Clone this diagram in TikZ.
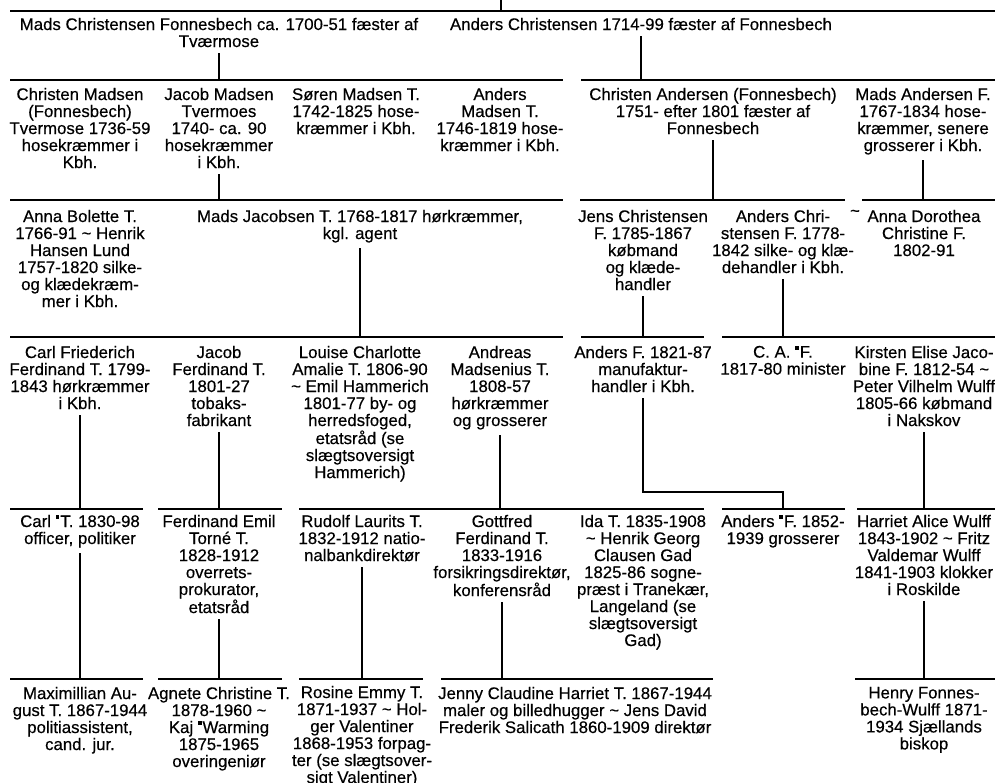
\documentclass[tikz,border=0pt]{standalone}
\usepackage{fontspec}
\setmainfont{Liberation Sans}[FakeBold=0.4]
\newcommand\tabfont{\fontsize{16.8}{17}\selectfont}
\newcommand\til{\textasciitilde}
\newcommand\sq{\raisebox{.48em}{\rule{.22em}{.22em}}\kern.06em}
\begin{document}
\begin{tikzpicture}[x=1pt,y=-1pt,line width=1.7pt,
                    person/.style={align=center,anchor=north,inner sep=0pt,font=\tabfont},
                    stem/.style={shorten <=5pt}]
\useasboundingbox (0,0) rectangle (995,782);
\foreach \n/\y/\a/\b in {g0/11/10/995,
                         g1a/80/10/563, g1b/80/581/995,
                         g2a/200/10/563, g2b/200/580/845, g2c/200/862/995,
                         g3a/337/10/563, g3b/337/581/704, g3c/337/722/995,
                         g4a/509/10/143, g4b/509/158/282, g4c/509/299/704, g4d/509/722/845, g4e/509/857/995,
                         g5a/679/10/143, g5b/679/158/282, g5c/679/299/423, g5d/679/441/713, g5e/679/855/995}
  {\coordinate (\n-l) at (\a,\y); \coordinate (\n-r) at (\b,\y); \draw (\n-l) -- (\n-r);}

\node[person] (mc) at (219,17) {Mads Christensen Fonnesbech ca. 1700-51 fæster af\\Tværmose};
\node[person] (ac) at (641,17) {Anders Christensen 1714-99 fæster af Fonnesbech};

\node[person] (cm) at (80,87) {Christen Madsen\\(Fonnesbech)\\Tvermose 1736-59\\hosekræmmer i\\Kbh.};
\node[person] (jm) at (219,87) {Jacob Madsen\\Tvermoes\\1740- ca. 90\\hosekræmmer\\i Kbh.};
\node[person] (sm) at (356,87) {Søren Madsen T.\\1742-1825 hose-\\kræmmer i Kbh.};
\node[person] (am) at (500,87) {Anders\\Madsen T.\\1746-1819 hose-\\kræmmer i Kbh.};
\node[person] (ca) at (713,87) {Christen Andersen (Fonnesbech)\\1751- efter 1801 fæster af\\Fonnesbech};
\node[person] (ma) at (923,87) {Mads Andersen F.\\1767-1834 hose-\\kræmmer, senere\\grosserer i Kbh.};

\node[person] (ab) at (80,209) {Anna Bolette T.\\1766-91 \til{} Henrik\\Hansen Lund\\1757-1820 silke-\\og klædekræm-\\mer i Kbh.};
\node[person] (mj) at (360,209) {Mads Jacobsen T. 1768-1817 hørkræmmer,\\kgl. agent};
\node[person] (jc) at (643,209) {Jens Christensen\\F. 1785-1867\\købmand\\og klæde-\\handler};
\node[person] (ach) at (783,209) {Anders Chri-\\stensen F. 1778-\\1842 silke- og klæ-\\dehandler i Kbh.};
\node[person] (mar) at (855,209) {\til};
\node[person] (ad) at (924,209) {Anna Dorothea\\Christine F.\\1802-91};

\node[person] (cf) at (80,345) {Carl Friederich\\Ferdinand T. 1799-\\1843 hørkræmmer\\i Kbh.};
\node[person] (jf) at (219,345) {Jacob\\Ferdinand T.\\1801-27\\tobaks-\\fabrikant};
\node[person] (lc) at (360,345) {Louise Charlotte\\Amalie T. 1806-90\\\til{} Emil Hammerich\\1801-77 by- og\\herredsfoged,\\etatsråd (se\\slægtsoversigt\\Hammerich)};
\node[person] (an) at (500,345) {Andreas\\Madsenius T.\\1808-57\\hørkræmmer\\og grosserer};
\node[person] (af) at (643,345) {Anders F. 1821-87\\manufaktur-\\handler i Kbh.};
\node[person] (caf) at (783,345) {C. A. \sq F.\\1817-80 minister};
\node[person] (ke) at (924,345) {Kirsten Elise Jaco-\\bine F. 1812-54 \til\\Peter Vilhelm Wulff\\1805-66 købmand\\i Nakskov};

\node[person] (ct) at (80,514) {Carl \sq T. 1830-98\\officer, politiker};
\node[person] (fe) at (219,514) {Ferdinand Emil\\Torné T.\\1828-1912\\overrets-\\prokurator,\\etatsråd};
\node[person] (rl) at (362,514) {Rudolf Laurits T.\\1832-1912 natio-\\nalbankdirektør};
\node[person] (gf) at (502,514) {Gottfred\\Ferdinand T.\\1833-1916\\forsikringsdirektør,\\konferensråd};
\node[person] (it) at (643,514) {Ida T. 1835-1908\\\til{} Henrik Georg\\Clausen Gad\\1825-86 sogne-\\præst i Tranekær,\\Langeland (se\\slægtsoversigt\\Gad)};
\node[person] (af2) at (783,514) {Anders \sq F. 1852-\\1939 grosserer};
\node[person] (ha) at (924,514) {Harriet Alice Wulff\\1843-1902 \til{} Fritz\\Valdemar Wulff\\1841-1903 klokker\\i Roskilde};

\node[person] (mx) at (80,686) {Maximillian Au-\\gust T. 1867-1944\\politiassistent,\\cand. jur.};
\node[person] (ag) at (219,686) {Agnete Christine T.\\1878-1960 \til\\Kaj \sq Warming\\1875-1965\\overingeniør};
\node[person] (re) at (362,685) {Rosine Emmy T.\\1871-1937 \til{} Hol-\\ger Valentiner\\1868-1953 forpag-\\ter (se slægtsover-\\sigt Valentiner)};
\node[person] (jy) at (575,686) {Jenny Claudine Harriet T. 1867-1944\\maler og billedhugger \til{} Jens David\\Frederik Salicath 1860-1909 direktør};
\node[person] (hf) at (924,686) {Henry Fonnes-\\bech-Wulff 1871-\\1934 Sjællands\\biskop};

\coordinate (top) at (501,0);
\coordinate (kink) at (783,492);
\draw (top) -- (top |- g0-l);
\path[stem]
    (mc) edge (mc |- g1a-l)
    (ac) edge (ac |- g1b-l)
    (jm) edge (jm |- g2a-l)
    (ca) edge (ca |- g2b-l)
    (ma) edge (ma |- g2c-l)
    (mj) edge (mj |- g3a-l)
    (jc) edge (jc |- g3b-l)
    (ach) edge (ach |- g3c-l)
    (cf) edge (cf |- g4a-l)
    (jf) edge (jf |- g4b-l)
    (an) edge (an |- g4c-l)
    (ke) edge (ke |- g4e-l)
    (ct) edge (ct |- g5a-l)
    (fe) edge (fe |- g5b-l)
    (rl) edge (rl |- g5c-l)
    (gf) edge (gf |- g5d-l)
    (ha) edge (ha |- g5e-l);
\draw[stem] (af) |- (kink) -- (kink |- g4d-l);
\end{tikzpicture}
\end{document}
